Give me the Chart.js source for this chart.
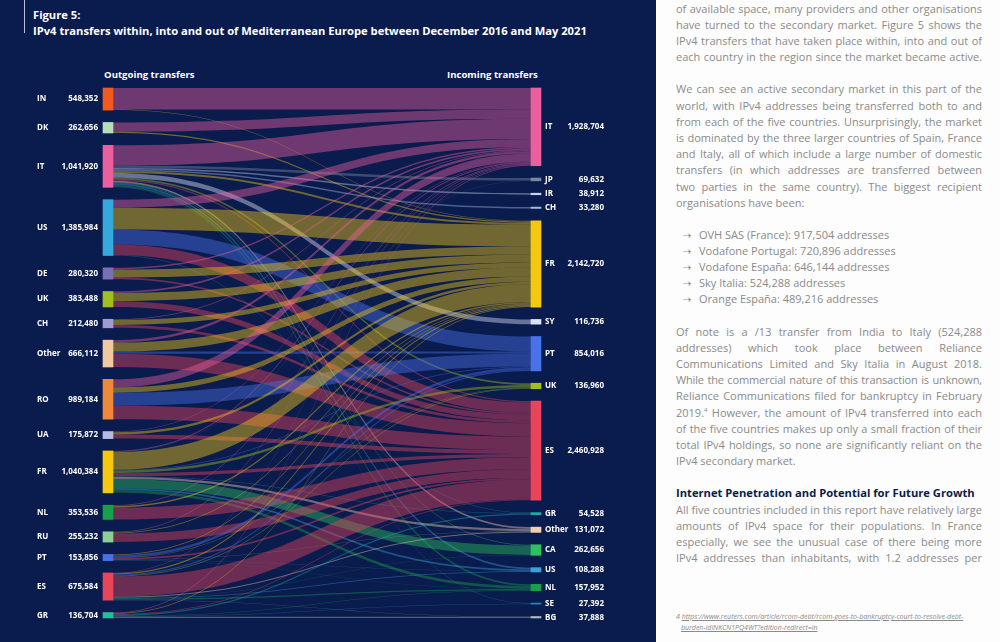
<!DOCTYPE html>
<html>
<head>
<meta charset="utf-8">
<script src="https://cdn.jsdelivr.net/npm/chart.js@4.4.0/dist/chart.umd.min.js"></script>
<style>
html,body{margin:0;padding:0;width:1000px;height:642px;overflow:hidden;background:#fdfdfd;font-family:"Open Sans",sans-serif;}
#panel{position:absolute;left:0;top:0;width:656px;height:642px;background:#0a1b4e;}
#rule{position:absolute;left:24px;top:0;width:1px;height:33px;background:#b9c0d8;}
.fig{position:absolute;left:33px;color:#fff;font-weight:700;font-size:11.2px;white-space:nowrap;line-height:14px;}
.head{position:absolute;top:68px;color:#fff;font-weight:700;font-size:9.6px;line-height:14px;white-space:nowrap;}
#chartBox{position:absolute;left:0;top:0;width:656px;height:642px;}
.ln{position:absolute;left:676px;width:306px;height:16px;overflow:hidden;font-size:11px;line-height:16px;color:#8a8a8a;white-space:nowrap;}
.j{text-align:justify;text-align-last:justify;white-space:normal;}
.bul{left:683px;width:300px;}
.bul span{display:inline-block;width:16px;color:#8a8a8a;font-family:"DejaVu Sans";font-size:10px;}
.h2{color:#0a1b4e;font-weight:700;font-size:11.2px;}
.fn{font-size:7px;font-style:italic;color:#8a8a8a;height:12px;line-height:12px;}
.fn u{text-decoration:underline;}
</style>
</head>
<body>
<div id="panel"></div>
<div id="rule"></div>
<div class="fig" style="top:8px">Figure 5:</div>
<div class="fig" style="top:24px">IPv4 transfers within, into and out of Mediterranean Europe between December 2016 and May 2021</div>
<div class="head" style="left:104px">Outgoing transfers</div>
<div class="head" style="left:447px">Incoming transfers</div>
<div id="chartBox"><canvas id="chart"></canvas></div>

<div class="ln j" style="top:1px">of available space, many providers and other organisations</div>
<div class="ln j" style="top:17px">have turned to the secondary market. Figure 5 shows the</div>
<div class="ln j" style="top:33px">IPv4 transfers that have taken place within, into and out of</div>
<div class="ln j" style="top:49px">each country in the region since the market became active.</div>

<div class="ln j" style="top:81px">We can see an active secondary market in this part of the</div>
<div class="ln j" style="top:98px">world, with IPv4 addresses being transferred both to and</div>
<div class="ln j" style="top:114px">from each of the five countries. Unsurprisingly, the market</div>
<div class="ln j" style="top:130px">is dominated by the three larger countries of Spain, France</div>
<div class="ln j" style="top:146px">and Italy, all of which include a large number of domestic</div>
<div class="ln j" style="top:162px">transfers (in which addresses are transferred between</div>
<div class="ln j" style="top:179px">two parties in the same country). The biggest recipient</div>
<div class="ln" style="top:195px">organisations have been:</div>

<div class="ln bul" style="top:227px"><span>&#8674;</span>OVH SAS (France): 917,504 addresses</div>
<div class="ln bul" style="top:243px"><span>&#8674;</span>Vodafone Portugal: 720,896 addresses</div>
<div class="ln bul" style="top:259px"><span>&#8674;</span>Vodafone España: 646,144 addresses</div>
<div class="ln bul" style="top:275px"><span>&#8674;</span>Sky Italia: 524,288 addresses</div>
<div class="ln bul" style="top:291px"><span>&#8674;</span>Orange España: 489,216 addresses</div>

<div class="ln j" style="top:324px">Of note is a /13 transfer from India to Italy (524,288</div>
<div class="ln j" style="top:340px">addresses) which took place between Reliance</div>
<div class="ln j" style="top:356px">Communications Limited and Sky Italia in August 2018.</div>
<div class="ln j" style="top:372px;letter-spacing:-0.15px">While the commercial nature of this transaction is unknown,</div>
<div class="ln j" style="top:388px">Reliance Communications filed for bankruptcy in February</div>
<div class="ln j" style="top:405px">2019.<sup style="font-size:6px;line-height:0">4</sup> However, the amount of IPv4 transferred into each</div>
<div class="ln j" style="top:421px">of the five countries makes up only a small fraction of their</div>
<div class="ln j" style="top:437px">total IPv4 holdings, so none are significantly reliant on the</div>
<div class="ln" style="top:453px">IPv4 secondary market.</div>

<div class="ln h2" style="top:485px">Internet Penetration and Potential for Future Growth</div>
<div class="ln j" style="top:502px">All five countries included in this report have relatively large</div>
<div class="ln j" style="top:518px">amounts of IPv4 space for their populations. In France</div>
<div class="ln j" style="top:534px">especially, we see the unusual case of there being more</div>
<div class="ln j" style="top:550px">IPv4 addresses than inhabitants, with 1.2 addresses per</div>

<div class="ln fn" style="top:611px">4 <u>https://www.reuters.com/article/rcom-debt/rcom-goes-to-bankruptcy-court-to-resolve-debt-</u></div>
<div class="ln fn" style="top:622px;left:681px"><u>burden-idINKCN1PQ4WT?edition-redirect=in</u></div>

<script>
// outgoing (left) and incoming (right) countries with their totals
const outgoingCountries = ['IN', 'DK', 'IT', 'US', 'DE', 'UK', 'CH', 'Other', 'RO', 'UA', 'FR', 'NL', 'RU', 'PT', 'ES', 'GR'];
const outgoingTotals = [548352, 262656, 1041920, 1385984, 280320, 383488, 212480, 666112, 989184, 175872, 1040384, 353536, 255232, 153856, 675584, 136704];

const incomingCountries = ['IT', 'JP', 'IR', 'CH', 'FR', 'SY', 'PT', 'UK', 'ES', 'GR', 'Other', 'CA', 'US', 'NL', 'SE', 'BG'];
const incomingTotals = [1928704, 69632, 38912, 33280, 2142720, 116736, 854016, 136960, 2460928, 54528, 131072, 262656, 108288, 157952, 27392, 37888];

// [from, to, addresses]
const transfers = [
    ['IN', 'IT', 532840], ['IN', 'FR', 15512],
    ['DK', 'IT', 229888], ['DK', 'FR', 32768],
    ['IT', 'IT', 500976], ['IT', 'JP', 61440], ['IT', 'IR', 38912], ['IT', 'CH', 33280], ['IT', 'FR', 50000],
    ['IT', 'SY', 116736], ['IT', 'UK', 46960], ['IT', 'ES', 30000], ['IT', 'Other', 41072], ['IT', 'CA', 22656],
    ['IT', 'US', 43288], ['IT', 'NL', 39096], ['IT', 'SE', 15200], ['IT', 'BG', 2304],
    ['US', 'IT', 200000], ['US', 'FR', 540000], ['US', 'PT', 370000], ['US', 'ES', 261456], ['US', 'GR', 14528],
    ['DE', 'IT', 40000], ['DE', 'FR', 200000], ['DE', 'ES', 40320],
    ['UK', 'IT', 40000], ['UK', 'FR', 200000], ['UK', 'ES', 143488],
    ['CH', 'IT', 20000], ['CH', 'FR', 120000], ['CH', 'ES', 72480],
    ['Other', 'IT', 60000], ['Other', 'FR', 224440], ['Other', 'PT', 50000], ['Other', 'ES', 331672],
    ['RO', 'IT', 200000], ['RO', 'FR', 130000], ['RO', 'PT', 324016], ['RO', 'ES', 335168],
    ['UA', 'IT', 15000], ['UA', 'FR', 60000], ['UA', 'ES', 100872],
    ['FR', 'IT', 20000], ['FR', 'JP', 8192], ['FR', 'FR', 440000], ['FR', 'PT', 20000], ['FR', 'UK', 60000],
    ['FR', 'ES', 80000], ['FR', 'GR', 10000], ['FR', 'Other', 60000], ['FR', 'CA', 230000], ['FR', 'US', 40000],
    ['FR', 'NL', 70000], ['FR', 'SE', 2192],
    ['NL', 'IT', 20000], ['NL', 'FR', 40000], ['NL', 'ES', 293536],
    ['RU', 'IT', 20000], ['RU', 'FR', 20000], ['RU', 'ES', 215232],
    ['PT', 'FR', 20000], ['PT', 'PT', 60000], ['PT', 'UK', 10000], ['PT', 'ES', 40000], ['PT', 'Other', 10000],
    ['PT', 'US', 5000], ['PT', 'NL', 8856],
    ['ES', 'IT', 10000], ['ES', 'FR', 30000], ['ES', 'PT', 30000], ['ES', 'UK', 20000], ['ES', 'ES', 500000],
    ['ES', 'Other', 20000], ['ES', 'CA', 10000], ['ES', 'US', 20000], ['ES', 'NL', 30000], ['ES', 'BG', 5584],
    ['GR', 'IT', 20000], ['GR', 'FR', 20000], ['GR', 'ES', 16704], ['GR', 'GR', 30000], ['GR', 'NL', 10000],
    ['GR', 'SE', 10000], ['GR', 'BG', 30000],
];

const outgoingColors = ['#f05a1e', '#b8dcb8', '#ec5f9e', '#35a8dc', '#7b6fb3', '#a0c020', '#a09cd0', '#f2c8a0',
    '#f0883a', '#b8bcdc', '#f5c810', '#16a04a', '#8ccf94', '#4a72e8', '#e8445a', '#22bf98'];
const incomingColors = ['#ec5f9e', '#7a8a9a', '#c8d4ec', '#a8b8d8', '#f5c810', '#dce4f4', '#4a72e8', '#a0c020',
    '#e8445a', '#20a8a8', '#f0d0b4', '#2ec060', '#3aa0d8', '#16a04a', '#2088a8', '#b0b4bc'];

const nodeGap = 306000;   // vertical gap between nodes, in address units
const nodeWidth = 10;
const linkAlpha = 0.44;

function stackStarts(totals) {
    let pos = 0;
    return totals.map(v => {
        const s = pos;
        pos += v + nodeGap;
        return s;
    });
}

const outStarts = stackStarts(outgoingTotals);
const inStarts = stackStarts(incomingTotals);
const span = outgoingTotals.reduce((a, b) => a + b, 0) + nodeGap * (outgoingTotals.length - 1);

function hexToRgba(hex, a) {
    const n = parseInt(hex.slice(1), 16);
    return `rgba(${(n >> 16) & 255},${(n >> 8) & 255},${n & 255},${a})`;
}

// one dataset per row: the left node and the right node
const datasets = outgoingCountries.map((c, i) => ({
    label: c + ' / ' + incomingCountries[i],
    data: [
        [outStarts[i], outStarts[i] + outgoingTotals[i]],
        [inStarts[i], inStarts[i] + incomingTotals[i]],
    ],
    backgroundColor: [outgoingColors[i], incomingColors[i]],
    borderWidth: 0,
    borderSkipped: false,
    barThickness: nodeWidth,
    grouped: false,
    clip: false,
}));

const flowPlugin = {
    id: 'flows',
    beforeDatasetsDraw(chart) {
        const { ctx, scales: { x, y } } = chart;
        const x0 = x.getPixelForValue(0) + nodeWidth / 2;
        const x1 = x.getPixelForValue(1) - nodeWidth / 2;
        const xm = (x0 + x1) / 2;

        const links = transfers.map(([from, to, v]) => ({
            s: outgoingCountries.indexOf(from),
            t: incomingCountries.indexOf(to),
            v,
        }));
        // source side ordered by target, target side ordered by source
        const outPos = outStarts.slice();
        links.slice().sort((a, b) => a.s - b.s || a.t - b.t).forEach(l => {
            l.sy = outPos[l.s];
            outPos[l.s] += l.v;
        });
        const inPos = inStarts.slice();
        links.slice().sort((a, b) => a.t - b.t || a.s - b.s).forEach(l => {
            l.ty = inPos[l.t];
            inPos[l.t] += l.v;
        });

        ctx.save();
        links.forEach(l => {
            const a0 = y.getPixelForValue(l.sy);
            const a1 = y.getPixelForValue(l.sy + l.v);
            const b0 = y.getPixelForValue(l.ty);
            const b1 = y.getPixelForValue(l.ty + l.v);
            ctx.fillStyle = hexToRgba(incomingColors[l.t], linkAlpha);
            ctx.beginPath();
            ctx.moveTo(x0, a0);
            ctx.bezierCurveTo(xm, a0, xm, b0, x1, b0);
            ctx.lineTo(x1, b1);
            ctx.bezierCurveTo(xm, b1, xm, a1, x0, a1);
            ctx.closePath();
            ctx.fill();
        });
        ctx.restore();
    },
    afterDatasetsDraw(chart) {
        const { ctx, scales: { x, y } } = chart;
        const lx = x.getPixelForValue(0);
        const rx = x.getPixelForValue(1);
        ctx.save();
        ctx.fillStyle = '#ffffff';
        ctx.font = '700 8px "Open Sans"';
        ctx.textBaseline = 'middle';
        outgoingCountries.forEach((c, i) => {
            const cy = y.getPixelForValue(outStarts[i] + outgoingTotals[i] / 2);
            ctx.textAlign = 'left';
            ctx.fillText(c, lx - 71, cy);
            ctx.textAlign = 'right';
            ctx.fillText(outgoingTotals[i].toLocaleString('en-US'), lx - 10, cy);
        });
        incomingCountries.forEach((c, i) => {
            const cy = y.getPixelForValue(inStarts[i] + incomingTotals[i] / 2);
            ctx.textAlign = 'left';
            ctx.fillText(c, rx + 9, cy);
            ctx.textAlign = 'right';
            ctx.fillText(incomingTotals[i].toLocaleString('en-US'), rx + 68, cy);
        });
        ctx.restore();
    }
};

new Chart(document.getElementById('chart'), {
    type: 'bar',
    data: {
        labels: ['Outgoing transfers', 'Incoming transfers'],
        datasets: datasets,
    },
    options: {
        responsive: true,
        maintainAspectRatio: false,
        animation: false,
        layout: { padding: { left: 108, right: 120, top: 88, bottom: 24 } },
        plugins: { legend: { display: false }, tooltip: { enabled: false } },
        scales: {
            x: { type: 'category', offset: false, display: false },
            y: { type: 'linear', min: 0, max: span, reverse: true, display: false },
        },
    },
    plugins: [flowPlugin],
});
</script>
</body>
</html>
